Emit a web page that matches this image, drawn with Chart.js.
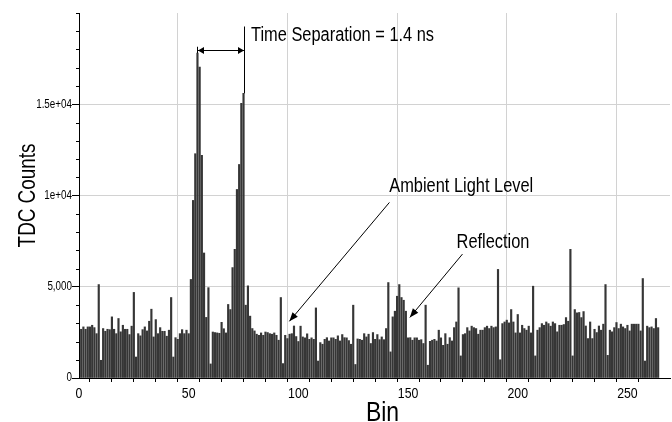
<!DOCTYPE html>
<html><head><meta charset="utf-8">
<script src="https://cdn.jsdelivr.net/npm/chart.js@4.4.1/dist/chart.umd.min.js"></script>
<style>html,body{margin:0;padding:0;background:#fff}canvas{display:block}</style>
</head><body>
<canvas id="c" width="672" height="422"></canvas>
<script>
// ---- data (TDC histogram, bins 1..264) ----
const bins = Array.from({length: 264}, (_, i) => i + 1);
const counts = [
  2670,2800,2670,2800,2800,2890,2760,2430,5120,970,
  2710,2560,2670,2650,3350,2670,2430,3260,2530,2890,
  2670,2670,2380,2840,4690,1150,2430,2310,2650,2800,
  2580,3110,3770,2250,3200,2430,2760,2560,2560,2290,
  2620,4410,1150,2210,2120,2430,2650,2430,2620,2430,
  5400,9730,12290,17800,17030,12200,6850,3320,4950,770,
  2520,2490,2470,2450,3050,2700,2470,4030,3750,6050,
  7050,10330,11700,15050,15600,3990,5050,3390,2710,2580,
  2400,2340,2470,2340,2520,2490,2430,2400,2470,2340,
  2070,4410,790,2340,2160,2400,2430,2850,2270,2000,
  2840,2250,2200,2420,2120,2200,2120,3840,930,1940,
  1850,2120,2210,2030,2200,2200,2120,2310,2030,2380,
  2210,2200,2050,1850,3990,740,2140,2120,2070,2430,
  2250,2400,1890,2490,2120,2380,2100,2250,2100,2710,
  5230,1430,3350,3660,4480,5120,4410,4260,3660,2200,
  2210,2070,2200,2200,2070,2100,1890,3990,700,2010,
  2070,2120,2030,2620,2200,1790,2430,1850,2210,2030,
  2760,3070,4940,1210,2380,2430,2760,2580,2840,2760,
  2710,2400,2620,2620,2760,2840,2710,2840,2760,2800,
  5950,1000,2980,3070,3170,3020,3750,3070,2470,3480,
  2470,2890,2710,2620,2840,2470,5030,1210,2620,2760,
  2980,2890,3070,2980,2840,3070,2980,2530,2890,2890,
  2930,3310,3110,7050,1210,3750,3570,3590,3310,3640,
  2850,2160,3070,2160,2670,2490,2850,2620,2950,5120,
  1240,2620,2530,2760,3040,2710,2950,2800,2710,2890,
  2580,2950,2950,2950,2950,2580,5450,930,2840,2760,
  2800,2710,3260,2760
];
const xTickValues = [0, 50, 100, 150, 200, 250];
const xTickLabels = ['0', '50', '100', '150', '200', '250'];
const yTickValues = [0, 5000, 10000, 15000];
const yTickLabels = ['0', '5,000', '1e+04', '1.5e+04'];
const xTitle = 'Bin';
const yTitle = 'TDC Counts';

// annotations (in data coordinates)
const sepLines = [{bin: 54, from: 17800, to: 18150}, {bin: 75, from: 15600, to: 19260}];
const sepArrow = {from: 54, to: 75, y: 17950};
const sepText = {text: 'Time Separation = 1.4 ns', bin: 78.4, y: 18440};
const callouts = [
  {text: 'Ambient Light Level', tx: 141.4, ty: 10190, x1: 141.5, y1: 9620, x2: 95.9, y2: 3105},
  {text: 'Reflection', tx: 172.1, ty: 7120, x1: 174.8, y1: 6790, x2: 150.8, y2: 3320}
];

const FONT = "'Liberation Sans',Arial,sans-serif";
const NARROW = 0.82;

function narrowText(ctx, text, x, y, size, align, baseline, rot) {
  ctx.save();
  ctx.font = size + 'px ' + FONT;
  ctx.textAlign = align; ctx.textBaseline = baseline;
  ctx.fillStyle = '#000';
  ctx.translate(x, y);
  if (rot) ctx.rotate(rot);
  ctx.scale(NARROW, 1);
  ctx.fillText(text, 0, 0);
  ctx.restore();
}

function arrowHead(ctx, x1, y1, x2, y2, len, half) {
  const a = Math.atan2(y2 - y1, x2 - x1);
  ctx.beginPath();
  ctx.moveTo(x2, y2);
  ctx.lineTo(x2 - len * Math.cos(a) + half * Math.sin(a), y2 - len * Math.sin(a) - half * Math.cos(a));
  ctx.lineTo(x2 - len * Math.cos(a) - half * Math.sin(a), y2 - len * Math.sin(a) + half * Math.cos(a));
  ctx.closePath();
  ctx.fill();
}

const decor = {
  id: 'decor',
  afterDraw(chart) {
    const {ctx, scales: {x, y}, chartArea} = chart;
    ctx.save();
    // minor y ticks
    ctx.strokeStyle = '#000'; ctx.lineWidth = 1;
    y.ticks.forEach(t => {
      if (t.value % 5000 === 0 && t.value !== 20000) return;
      const py = Math.round(y.getPixelForValue(t.value)) + 0.5;
      ctx.beginPath(); ctx.moveTo(chartArea.left - 3, py); ctx.lineTo(chartArea.left, py); ctx.stroke();
    });
    // tick labels
    xTickValues.forEach((v, i) => narrowText(ctx, xTickLabels[i], x.getPixelForValue(v), 397.5, 15, 'center', 'alphabetic'));
    yTickValues.forEach((v, i) => narrowText(ctx, yTickLabels[i], chartArea.left - 7, y.getPixelForValue(v), 12, 'right', 'middle'));
    // time separation lines
    ctx.fillStyle = '#000';
    sepLines.forEach(l => {
      const px = Math.round(x.getPixelForValue(l.bin)) + 0.5;
      ctx.beginPath(); ctx.moveTo(px, y.getPixelForValue(l.from)); ctx.lineTo(px, y.getPixelForValue(l.to)); ctx.stroke();
    });
    const ax1 = Math.round(x.getPixelForValue(sepArrow.from)) + 0.5;
    const ax2 = Math.round(x.getPixelForValue(sepArrow.to)) + 0.5;
    const ay = Math.round(y.getPixelForValue(sepArrow.y)) + 0.5;
    ctx.beginPath(); ctx.moveTo(ax1, ay); ctx.lineTo(ax2, ay); ctx.stroke();
    arrowHead(ctx, ax2, ay, ax1 + 0.5, ay, 6, 3.5);
    arrowHead(ctx, ax1, ay, ax2 - 0.5, ay, 6, 3.5);
    // texts
    narrowText(ctx, sepText.text, x.getPixelForValue(sepText.bin), y.getPixelForValue(sepText.y), 20, 'left', 'alphabetic');
    callouts.forEach(c => {
      narrowText(ctx, c.text, x.getPixelForValue(c.tx), y.getPixelForValue(c.ty), 20, 'left', 'alphabetic');
      const p1x = x.getPixelForValue(c.x1), p1y = y.getPixelForValue(c.y1);
      const p2x = x.getPixelForValue(c.x2), p2y = y.getPixelForValue(c.y2);
      ctx.beginPath(); ctx.moveTo(p1x, p1y); ctx.lineTo(p2x, p2y); ctx.stroke();
      arrowHead(ctx, p1x, p1y, p2x, p2y, 9, 3.5);
    });
    // axis titles
    narrowText(ctx, xTitle, (chartArea.left + chartArea.right) / 2 + 8, 421, 28, 'center', 'alphabetic');
    narrowText(ctx, yTitle, 35, (chartArea.top + chartArea.bottom) / 2, 23, 'center', 'alphabetic', -Math.PI / 2);
    ctx.restore();
  }
};

new Chart(document.getElementById('c'), {
  type: 'bar',
  data: {
    datasets: [{
      data: bins.map((b, i) => ({x: b, y: counts[i]})),
      backgroundColor: '#363636',
      borderWidth: 0,
      barThickness: 1.5
    }]
  },
  options: {
    responsive: false,
    animation: false,
    layout: {padding: {top: 13, right: 2, left: 0, bottom: 0}},
    plugins: {legend: {display: false}, tooltip: {enabled: false}},
    scales: {
      x: {
        type: 'linear', min: 0, max: 269.4, offset: false,
        afterBuildTicks: s => { s.ticks = s.ticks.filter(t => t.value % 10 === 0); },
        afterFit: s => { s.height = 44; },
        ticks: {stepSize: 10, autoSkip: false, maxRotation: 0, display: false},
        grid: {
          color: c => (c.tick && c.tick.value % 50 === 0 && c.tick.value !== 0) ? '#d2d2d2' : 'rgba(0,0,0,0)',
          tickColor: '#000', tickLength: 4, lineWidth: 1
        },
        border: {color: '#000', width: 1}
      },
      y: {
        min: 0, max: 20000,
        afterFit: s => { s.width = 79; },
        ticks: {stepSize: 1000, autoSkip: false, display: false},
        grid: {
          color: c => (c.tick && c.tick.value % 5000 === 0 && c.tick.value !== 0 && c.tick.value !== 20000) ? '#d2d2d2' : 'rgba(0,0,0,0)',
          tickColor: c => (c.tick && c.tick.value % 5000 === 0 && c.tick.value !== 20000) ? '#000' : 'rgba(0,0,0,0)',
          tickLength: 7, lineWidth: 1
        },
        border: {color: '#000', width: 1}
      }
    }
  },
  plugins: [decor]
});
</script>
</body></html>
